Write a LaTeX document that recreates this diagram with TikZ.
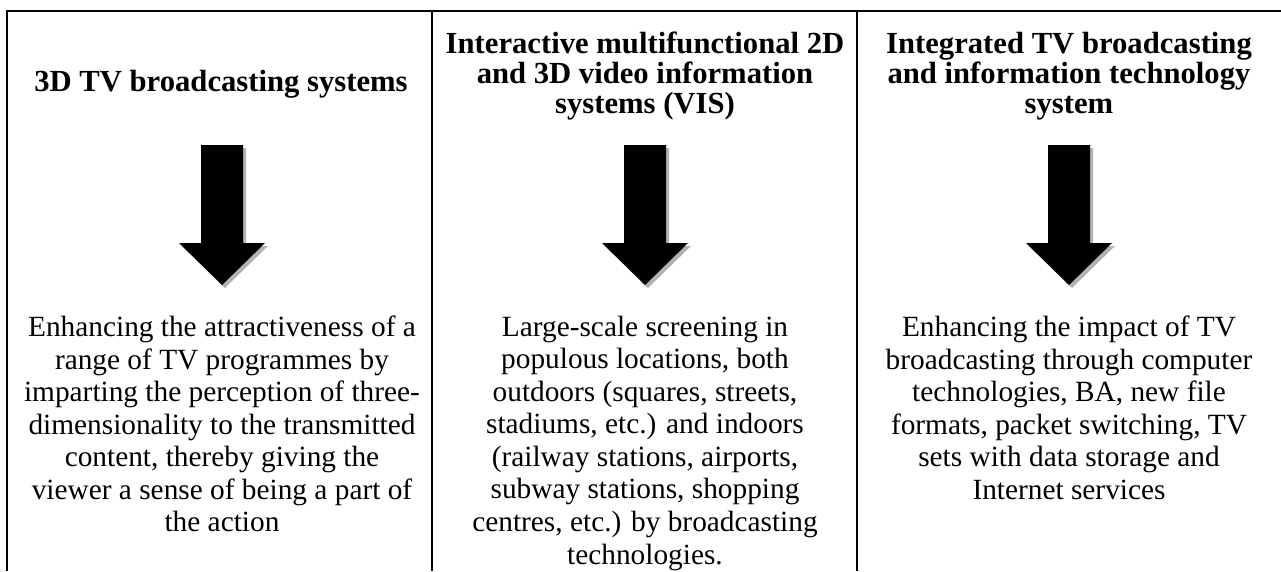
\documentclass[tikz,border=0pt]{standalone}
\usepackage{fontspec}
\setmainfont{Liberation Serif}
\usepackage{tikz}
\usetikzlibrary{positioning}
\tikzset{headtext/.style={
    % The shape:
    inner sep=0pt,
    align=center,
    % Font
    font=\fontsize{23pt}{22.5pt}\selectfont\bfseries
    },
    bodytext/.style={
    inner sep=0pt,
    align=center,
    font=\fontsize{22pt}{24.4pt}\selectfont
    },
    bigdown/.pic={
    % The shadow:
    \fill[black!30] (-18,3) -- (24,3) -- (24,101) -- (46,101) -- (3,143) -- (-40,101) -- (-18,101) -- cycle;
    % The arrow:
    \fill[black] (-21,0) -- (21,0) -- (21,98) -- (43,98) -- (0,140) -- (-43,98) -- (-21,98) -- cycle;
    \coordinate (-tip) at (0,140);
    },
    rule/.style={line width=1.5pt},
}

\begin{document}
\begin{tikzpicture}[x=0.75pt,y=-0.75pt]
    \useasboundingbox (0,0) rectangle (1281,571);
    % frame of the table
    \draw[rule] (7,571) -- (7,11) -- (1281,11);
    \draw[rule] (432,11) -- (432,571);
    \draw[rule] (857,11) -- (857,571);
    % headers
    \node (head1) [headtext,anchor=base]  at (221,91) {3D TV broadcasting systems};
    \node (head2) [headtext,anchor=north] at (645,32) {Interactive multifunctional 2D\\and 3D video information\\systems (VIS)};
    \node (head3) [headtext,anchor=north] at (1069,32) {Integrated TV broadcasting\\and information technology\\system};
    % arrows
    \pic (arr1) at (222,145) {bigdown};
    \pic (arr2) at (645,145) {bigdown};
    \pic (arr3) at (1069,145) {bigdown};
    % descriptions
    \node (body1) [bodytext,below=23pt of arr1-tip] {Enhancing the attractiveness of a\\range of TV programmes by\\imparting the perception of three-\\dimensionality to the transmitted\\content, thereby giving the\\viewer a sense of being a part of\\the action};
    \node (body2) [bodytext,below=23pt of arr2-tip] {Large-scale screening in\\populous locations, both\\outdoors (squares, streets,\\stadiums, etc.) and indoors\\(railway stations, airports,\\subway stations, shopping\\centres, etc.) by broadcasting\\technologies.};
    \node (body3) [bodytext,below=23pt of arr3-tip] {Enhancing the impact of TV\\broadcasting through computer\\technologies, BA, new file\\formats, packet switching, TV\\sets with data storage and\\Internet services};
\end{tikzpicture}
\end{document}
